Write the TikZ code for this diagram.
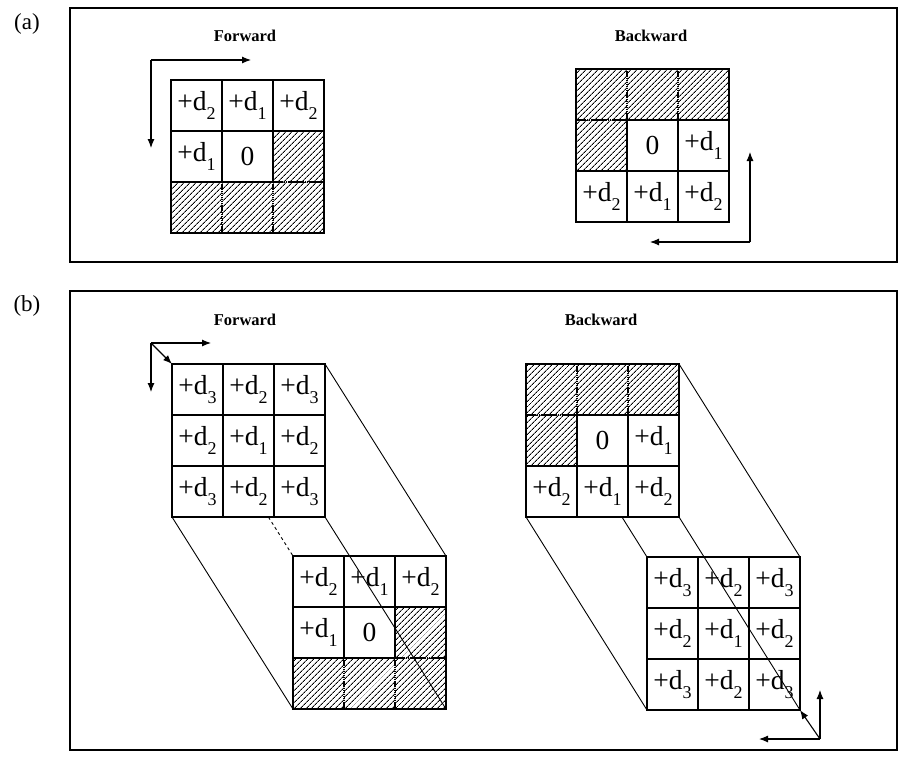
\documentclass[tikz,border=0pt]{standalone}
\usepackage{fontspec}
\setmainfont{Liberation Serif}
\usetikzlibrary{patterns.meta,arrows.meta,calc}
\newcommand\dsub[1]{+d\raisebox{-0.3em}{\fontsize{18}{18}\selectfont #1}}
\tikzset{
  cell/.style={draw, line width=1.1pt, minimum size=51pt, inner sep=0pt, outer sep=0pt,
    font=\fontsize{27.5}{27.5}\selectfont},
  plain/.style={},
  hatch/.style={densely dotted, pattern={Lines[angle=45,distance=4pt,line width=1pt]}},
  gridframe/.style={draw, line width=1.2pt},
  frame/.style={draw, line width=1.3pt},
  edge/.style={line width=0.9pt},
  arr/.style={line width=1.1pt, -{Latex[length=9pt,width=7pt]}},
  title/.style={font=\bfseries\fontsize{16.5}{16.5}\selectfont},
  plabel/.style={font=\fontsize{23}{23}\selectfont}
}
\newcommand\mkgrid[4]{%
  \foreach \s/\t [count=\k from 0] in {#4} {
    \pgfmathtruncatemacro\gr{div(\k,3)+1}
    \pgfmathtruncatemacro\gc{mod(\k,3)+1}
    \node[cell,\s] (#1-\gr-\gc) at ({#2+(\gc-0.5)*51},{#3+(\gr-0.5)*51}) {\t};
  }
  \draw[gridframe] (#1-1-1.north west) rectangle (#1-3-3.south east);
}
\begin{document}
\begin{tikzpicture}[x=1pt,y=-1pt]
\useasboundingbox (0,0) rectangle (900,756);
% panel frames and labels
\draw[frame] (70,8) rectangle (897,262);
\draw[frame] (70,291) rectangle (897,750);
\node[plabel] (la) at (27,24) {(a)};
\node[plabel] (lb) at (27,306) {(b)};
% ---------- (a) ----------
\node[title] (tfa) at (245,36) {Forward};
\node[title] (tba) at (651,36) {Backward};
\mkgrid{fa}{171}{80}{plain/\dsub{2},plain/\dsub{1},plain/\dsub{2},plain/\dsub{1},plain/0,hatch/,hatch/,hatch/,hatch/}
\mkgrid{ba}{576}{69}{hatch/,hatch/,hatch/,hatch/,plain/0,plain/\dsub{1},plain/\dsub{2},plain/\dsub{1},plain/\dsub{2}}
\coordinate (fac) at (151,60);
\coordinate (far) at (251,60);
\coordinate (fad) at (151,148);
\draw[arr] (fac) -- (far);
\draw[arr] (fac) -- (fad);
\coordinate (bac) at (750,242);
\coordinate (bau) at (750,152);
\coordinate (bal) at (650,242);
\draw[arr] (bac) -- (bau);
\draw[arr] (bac) -- (bal);
% ---------- (b) forward ----------
\node[title] (tfb) at (245,320) {Forward};
\node[title] (tbb) at (601,320) {Backward};
\mkgrid{fb1}{172}{364}{plain/\dsub{3},plain/\dsub{2},plain/\dsub{3},plain/\dsub{2},plain/\dsub{1},plain/\dsub{2},plain/\dsub{3},plain/\dsub{2},plain/\dsub{3}}
\mkgrid{fb2}{293}{556}{plain/\dsub{2},plain/\dsub{1},plain/\dsub{2},plain/\dsub{1},plain/0,hatch/,hatch/,hatch/,hatch/}
\coordinate (fp1) at (fb1-1-1.north west);
\coordinate (fp2) at (fb2-1-1.north west);
\coordinate (fp3) at (fb1-3-1.south west);
\coordinate (fp4) at (fb1-3-3.south east);
\coordinate (fbx) at (intersection of fp1--fp2 and fp3--fp4);
\draw[edge] (fb1-3-1.south west) -- (fb2-3-1.south west);
\draw[edge] (fb1-1-3.north east) -- (fb2-1-3.north east);
\draw[edge] (fb1-3-3.south east) -- (fb2-3-3.south east);
\draw[edge,dashed] (fbx) -- (fb2-1-1.north west);
\coordinate (fbc) at (151,343);
\coordinate (fbr) at (211,343);
\coordinate (fbd) at (151,392);
\draw[arr] (fbc) -- (fbr);
\draw[arr] (fbc) -- (fbd);
\draw[arr] (fbc) -- (fb1-1-1.north west);
% ---------- (b) backward ----------
\mkgrid{bb1}{526}{364}{hatch/,hatch/,hatch/,hatch/,plain/0,plain/\dsub{1},plain/\dsub{2},plain/\dsub{1},plain/\dsub{2}}
\mkgrid{bb2}{647}{557}{plain/\dsub{3},plain/\dsub{2},plain/\dsub{3},plain/\dsub{2},plain/\dsub{1},plain/\dsub{2},plain/\dsub{3},plain/\dsub{2},plain/\dsub{3}}
\coordinate (bp1) at (bb1-1-1.north west);
\coordinate (bp2) at (bb2-1-1.north west);
\coordinate (bp3) at (bb1-3-1.south west);
\coordinate (bp4) at (bb1-3-3.south east);
\coordinate (bbx) at (intersection of bp1--bp2 and bp3--bp4);
\draw[edge] (bb1-3-1.south west) -- (bb2-3-1.south west);
\draw[edge] (bb1-1-3.north east) -- (bb2-1-3.north east);
\draw[edge] (bb1-3-3.south east) -- (bb2-3-3.south east);
\draw[edge] (bbx) -- (bb2-1-1.north west);
\coordinate (bbc) at (820,739);
\coordinate (bbu) at (820,690);
\coordinate (bbl) at (759,739);
\draw[arr] (bbc) -- (bbu);
\draw[arr] (bbc) -- (bbl);
\draw[arr] (bbc) -- (bb2-3-3.south east);
\end{tikzpicture}
\end{document}
